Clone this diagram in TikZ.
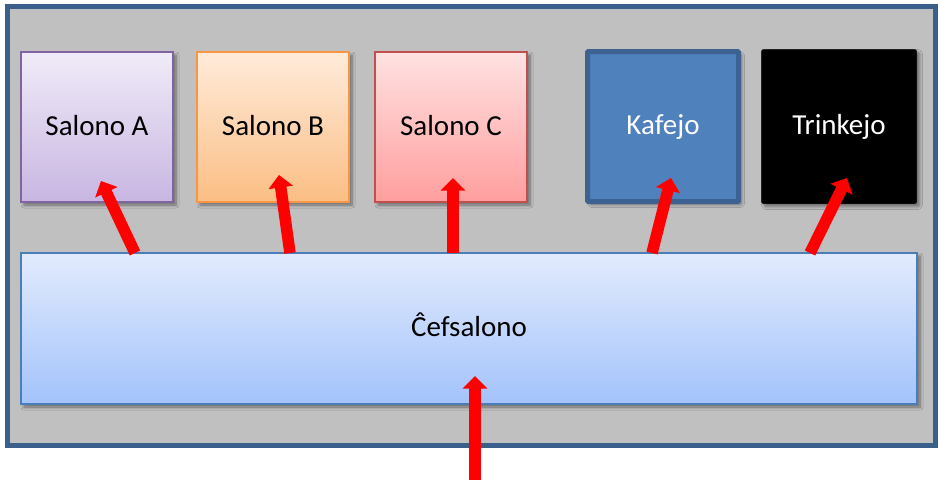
\documentclass[tikz,border=0pt]{standalone}
\usepackage{fontspec}
\setmainfont{Carlito}
\usetikzlibrary{arrows.meta,shadows.blur}
\definecolor{framebd}{HTML}{3B5F8B}
\definecolor{framebg}{HTML}{C0C0C0}
\definecolor{aTop}{HTML}{F0EBF8}
\definecolor{aBot}{HTML}{C8B6E2}
\definecolor{aBd}{HTML}{8064A2}
\definecolor{bTop}{HTML}{FFEBDA}
\definecolor{bBot}{HTML}{FBBE84}
\definecolor{bBd}{HTML}{F79646}
\definecolor{cTop}{HTML}{FFE2E2}
\definecolor{cBot}{HTML}{FF9E9E}
\definecolor{cBd}{HTML}{C0504D}
\definecolor{kFill}{HTML}{4F81BD}
\definecolor{kBd}{HTML}{3D6190}
\definecolor{efTop}{HTML}{E2EBFD}
\definecolor{efBot}{HTML}{A3C3FB}
\definecolor{efBd}{HTML}{4A7EBB}
\definecolor{arrowred}{HTML}{FF0000}
\tikzset{
  x=1pt,y=-1pt,
  shad/.style={blur shadow={shadow xshift=3pt,shadow yshift=-3pt,shadow blur steps=6,shadow blur radius=3pt,shadow opacity=45}},
  room/.style={shad,rectangle,inner sep=0pt,minimum width=152pt,minimum height=150pt,line width=1.5pt,
    font=\fontsize{29}{34}\selectfont,text=black,text height=19pt,text depth=3pt},
  redarrow/.style={draw=arrowred,line width=11.5pt,-{Triangle[width=24pt,length=12.5pt]},shorten <=0pt}
}
\begin{document}
\begin{tikzpicture}
\useasboundingbox (0,0) rectangle (940,480);
\node[draw=framebd,fill=framebg,line width=5pt,inner sep=0pt,minimum width=928pt,minimum height=439.5pt] (frame) at (471.5,225.75) {};
\node[room,draw=aBd,top color=aTop,bottom color=aBot] (sa) at (97,127) {Salono A};
\node[room,draw=bBd,top color=bTop,bottom color=bBot] (sb) at (273,127) {Salono B};
\node[room,draw=cBd,top color=cTop,bottom color=cBot] (sc) at (451,127) {Salono C};
\node[room,draw=kBd,fill=kFill,line width=5pt,minimum width=151pt,minimum height=150pt,text=white,rounded corners=1pt] (kaf) at (663,126.5) {Kafejo};
\node[room,draw=black,fill=black,line width=0.5pt,minimum width=155pt,minimum height=154pt,text=white,rounded corners=2pt] (trk) at (839,126.5) {Trinkejo};
\node[room,draw=efBd,top color=efTop,bottom color=efBot,minimum width=896pt,minimum height=151pt] (cef) at (469,328.5) {Ĉefsalono};
\coordinate (a0) at (135,253);
\coordinate (a1) at (101,181);
\coordinate (b0) at (290,253);
\coordinate (b1) at (279,175);
\coordinate (c0) at (453,253);
\coordinate (c1) at (453,178);
\coordinate (k0) at (652,253);
\coordinate (k1) at (671,178);
\coordinate (t0) at (810,253);
\coordinate (t1) at (847,178);
\coordinate (e0) at (475,480);
\coordinate (e1) at (475,376);
\draw[redarrow] (a0) -- (a1);
\draw[redarrow] (b0) -- (b1);
\draw[redarrow] (c0) -- (c1);
\draw[redarrow] (k0) -- (k1);
\draw[redarrow] (t0) -- (t1);
\draw[redarrow] (e0) -- (e1);
\end{tikzpicture}
\end{document}
